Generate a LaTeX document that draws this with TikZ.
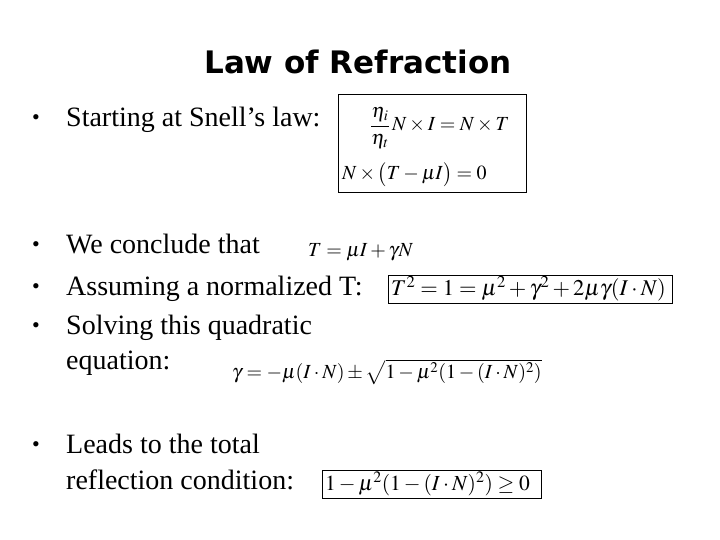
\documentclass[tikz,border=0pt]{standalone}
\usepackage{amsmath}
\usepackage{mathptmx}
\usepackage{fontspec}
\setmainfont{Liberation Serif}
\newfontfamily\titlefont{DejaVu Sans}
\begin{document}
\begin{tikzpicture}[x=1pt,y=-1pt,
  txt/.style={anchor=west,inner sep=0pt,font=\fontsize{28}{32}\selectfont},
  bul/.style={inner sep=0pt,anchor=base,font=\fontsize{22}{26}\selectfont},
  eq/.style={inner sep=0pt,anchor=west,font=\fontsize{20}{24}\selectfont},
  box/.style={draw,line width=1pt}]
\useasboundingbox (0,0) rectangle (720,540);
\node[font=\titlefont\bfseries\fontsize{31}{34}\selectfont] (title) at (358,62) {Law of Refraction};
\node[txt] (b1) at (66,120) {Starting at Snell’s law:};
\node[txt] (b2) at (66,244) {We conclude that};
\node[txt] (b3) at (66,289) {Assuming a normalized T:};
\node[txt] (b4) at (66,328) {Solving this quadratic};
\node[txt] (b4b) at (66,363) {equation:};
\node[txt] (b5) at (66,444) {Leads to the total};
\node[txt] (b5b) at (66,480) {reflection condition:};
\foreach \n in {1,2,3,4,5} \path (b\n.base west) ++(-30,-2) node[bul] (p\n) {•};
\draw[box] (338,95) rectangle (526,193);
\node[eq] (s1) at (370,128) {$\dfrac{\eta_i}{\eta_t}\,N\times I = N\times T$};
\node[eq] (s2) at (342,175) {$N\times\bigl(T-\mu I\bigr)=0$};
\node[eq] (c1) at (308,252) {$T=\mu I+\gamma N$};
\draw[box] (388,275) rectangle (672,303);
\node[eq,font=\fontsize{22.5}{26}\selectfont] (c2) at (391,289) {$T^2=1=\mu^2+\gamma^2+2\mu\gamma(I\cdot N)$};
\node[eq] (c3) at (232,372) {$\gamma=-\mu(I\cdot N)\pm\sqrt{1-\mu^2(1-(I\cdot N)^2)}$};
\draw[box] (322,470) rectangle (541,498);
\node[eq,font=\fontsize{21.5}{26}\selectfont] (c4) at (325,484) {$1-\mu^2(1-(I\cdot N)^2)\geq 0$};
\end{tikzpicture}
\end{document}
